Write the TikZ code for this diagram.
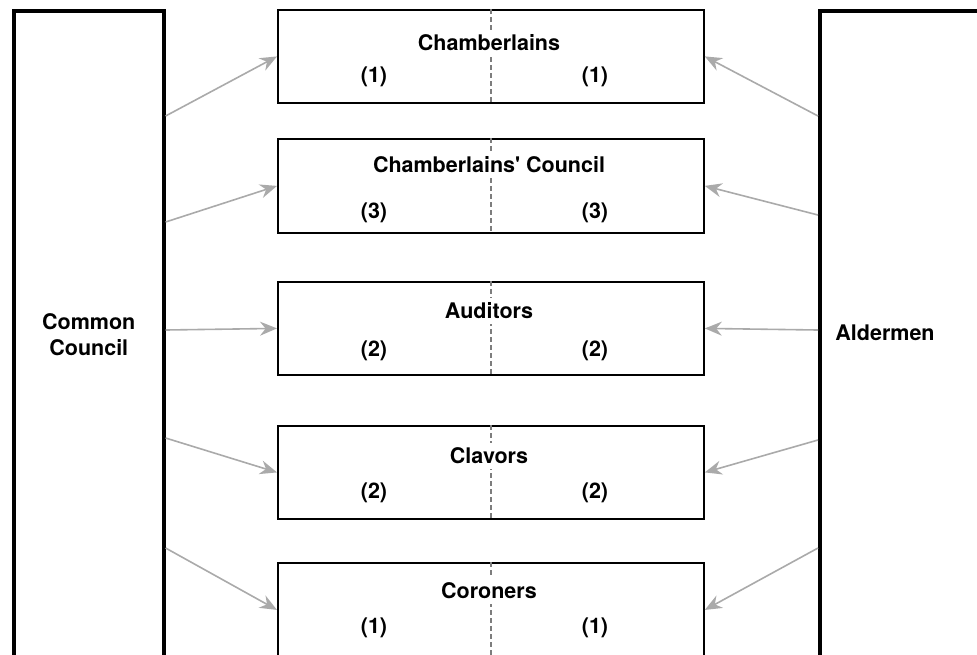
\documentclass[tikz,border=0pt]{standalone}
\usepackage{fontspec}
\setmainfont{TeX Gyre Heros}
\usepackage{tikz}
\usepackage{xcolor}
\usetikzlibrary{arrows.meta, positioning}
\definecolor{linkcolor}{RGB}{170,170,170}
\definecolor{splitcolor}{RGB}{125,125,125}

\begin{document}
\begin{tikzpicture}[
  x=0.5pt, y=-0.5pt,
  font=\fontsize{10.75pt}{13pt}\selectfont\bfseries,
  every node/.style={align=center},
  bodybox/.style={
    draw, line width=1.8pt, anchor=north west,
    minimum width=75pt, minimum height=324pt, inner sep=0pt
  },
  officebox/.style={
    draw, line width=0.9pt, anchor=north west,
    minimum width=213pt, inner sep=0pt
  },
  officetitle/.style={fill=white, inner sep=2.5pt},
  seatcount/.style={inner sep=1pt},
  splitline/.style={splitcolor, line width=0.7pt, dash pattern=on 2.6pt off 1.4pt},
  link/.style={-{Stealth[length=8.5pt, width=7pt, inset=2.8pt]}, linkcolor, line width=0.8pt},
]

\useasboundingbox (0,0) rectangle (977,654);
\clip (0,0) rectangle (977,654);

%% ─── Electing bodies ─────────────────────────────────────────────────────────

\node[bodybox] (cc) at (12,9) {Common\\Council};
\node[bodybox, minimum width=90pt] (ald) at (818,9) {};
\node (aldtxt) at (885,333) {Aldermen};

%% ─── Offices (top / bottom / title y / count y / title / seats) ──────────────

\foreach \i/\top/\bot/\ty/\ny/\name/\seats in {
    1/9/102/43/77/{Chamberlains}/{(1)},
    2/138/232/165/213/{Chamberlains\textquotesingle{} Council}/{(3)},
    3/281/374/311/351/{Auditors}/{(2)},
    4/425/518/456/493/{Clavors}/{(2)},
    5/562/656/591/628/{Coroners}/{(1)}}{
  \pgfmathsetmacro{\boxh}{(\bot-\top)/2}
  \node[officebox, minimum height=\boxh pt] (b\i) at (277,\top) {};
  \draw[splitline] (b\i.north) -- (b\i.south);
  \node[officetitle] (t\i) at (489,\ty) {\name};
  \node[seatcount] (nl\i) at (374,\ny) {\seats};
  \node[seatcount] (nr\i) at (595,\ny) {\seats};
}

%% ─── Appointment arrows ──────────────────────────────────────────────────────

\foreach \i/\ly/\ry in {1/116/116, 2/222/215, 3/330/330, 4/438/440, 5/548/548}{
  \coordinate (ccout\i) at (cc.east |- 0,\ly);
  \coordinate (aldout\i) at (ald.west |- 0,\ry);
  \draw[link] (ccout\i) -- (b\i.west);
  \draw[link] (aldout\i) -- (b\i.east);
}

\end{tikzpicture}
\end{document}
